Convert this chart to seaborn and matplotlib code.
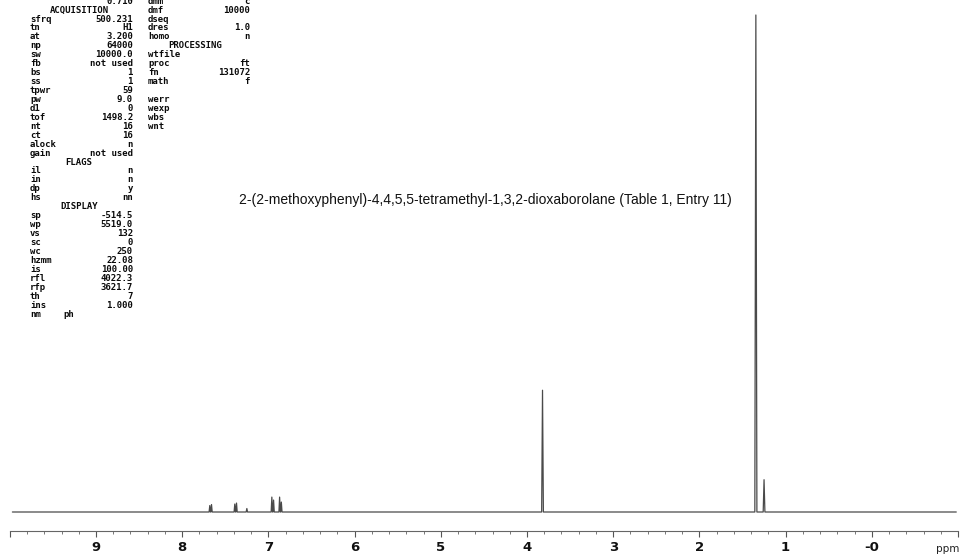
import pandas as pd
import seaborn as sns
import matplotlib.pyplot as plt
import numpy as np

# ==========================================
# DATA
# ==========================================
TITLE = "2-(2-methoxyphenyl)-4,4,5,5-tetramethyl-1,3,2-dioxaborolane (Table 1, Entry 11)"

# peak list: position (ppm), height (% of tallest line), half width at base (ppm)
PEAK_PPM = [7.68, 7.66, 7.39, 7.37, 7.25, 6.96, 6.94, 6.87, 6.85, 3.82, 1.345, 1.25]
PEAK_HEIGHT = [1.3, 1.5, 1.6, 1.8, 0.7, 3.0, 2.4, 3.0, 2.0, 24.5, 100.0, 6.5]
PEAK_HALFWIDTH = [0.008, 0.008, 0.008, 0.008, 0.008, 0.008, 0.008, 0.008, 0.008, 0.01, 0.012, 0.01]

# baseline start / end (ppm)
BASELINE_START = 9.97
BASELINE_END = -0.98

# scale labels
MAJOR_TICKS = [10, 9, 8, 7, 6, 5, 4, 3, 2, 1, 0, -1]
MAJOR_LABELS = ["", "9", "8", "7", "6", "5", "4", "3", "2", "1", "-0", ""]
MINOR_TICKS = [round(10 - 0.2 * i, 1) for i in range(56)]

# parameter listing, column 1: (row, label, value)
PARAMS_COL1 = [
    (-2, "", "0.710"),
    (0, "sfrq", "500.231"), (1, "tn", "H1"), (2, "at", "3.200"),
    (3, "np", "64000"), (4, "sw", "10000.0"), (5, "fb", "not used"),
    (6, "bs", "1"), (7, "ss", "1"), (8, "tpwr", "59"), (9, "pw", "9.0"),
    (10, "d1", "0"), (11, "tof", "1498.2"), (12, "nt", "16"),
    (13, "ct", "16"), (14, "alock", "n"), (15, "gain", "not used"),
    (17, "il", "n"), (18, "in", "n"), (19, "dp", "y"), (20, "hs", "nn"),
    (22, "sp", "-514.5"), (23, "wp", "5519.0"), (24, "vs", "132"),
    (25, "sc", "0"), (26, "wc", "250"), (27, "hzmm", "22.08"),
    (28, "is", "100.00"), (29, "rfl", "4022.3"), (30, "rfp", "3621.7"),
    (31, "th", "7"), (32, "ins", "1.000"),
]
HEADERS_COL1 = [(-1, "ACQUISITION"), (16, "FLAGS"), (21, "DISPLAY")]

PARAMS_COL2 = [
    (-2, "dmm", "c"), (-1, "dmf", "10000"), (0, "dseq", ""),
    (1, "dres", "1.0"), (2, "homo", "n"), (4, "wtfile", ""),
    (5, "proc", "ft"), (6, "fn", "131072"), (7, "math", "f"),
    (9, "werr", ""), (10, "wexp", ""), (11, "wbs", ""), (12, "wnt", ""),
]
HEADERS_COL2 = [(3, "PROCESSING")]

# ==========================================
# LAYOUT (pixels of a 960x558 page)
# ==========================================
W, H = 960, 558
RULER_Y = 531
BASE_Y = 512
TOP_PEAK_Y = 15
X_LEFT, X_RIGHT = 9.8, 958

ROW0_Y = 19
ROW_STEP = 8.94
COL1_LABEL_X, COL1_VALUE_X, COL1_HEAD_X = 30, 133, 79
COL2_LABEL_X, COL2_VALUE_X, COL2_HEAD_X = 148, 250, 195


def build_spectrum():
    """Polyline vertices: baseline with a triangle for every line."""
    order = np.argsort(PEAK_PPM)[::-1]
    ppm = [BASELINE_START]
    inten = [0.0]
    for i in order:
        c, h, w = PEAK_PPM[i], PEAK_HEIGHT[i], PEAK_HALFWIDTH[i]
        ppm += [c + w, c, c - w]
        inten += [0.0, h, 0.0]
    ppm.append(BASELINE_END)
    inten.append(0.0)
    return pd.DataFrame({"ppm": ppm, "intensity": inten})


def fy(py):
    return 1 - py / H


def draw_params(fig):
    mono = dict(family="DejaVu Sans Mono", fontsize=6.5, fontweight="bold",
                color="#0a0a0a", va="center")
    for row, lab, val in PARAMS_COL1:
        y = fy(ROW0_Y + row * ROW_STEP)
        if lab:
            fig.text(COL1_LABEL_X / W, y, lab, ha="left", **mono)
        if val:
            fig.text(COL1_VALUE_X / W, y, val, ha="right", **mono)
    for row, lab in HEADERS_COL1:
        fig.text(COL1_HEAD_X / W, fy(ROW0_Y + row * ROW_STEP), lab, ha="center", **mono)
    # last line of column 1
    fig.text(COL1_LABEL_X / W, fy(ROW0_Y + 33 * ROW_STEP), "nm", ha="left", **mono)
    fig.text(63 / W, fy(ROW0_Y + 33 * ROW_STEP), "ph", ha="left", **mono)

    for row, lab, val in PARAMS_COL2:
        y = fy(ROW0_Y + row * ROW_STEP)
        fig.text(COL2_LABEL_X / W, y, lab, ha="left", **mono)
        if val:
            fig.text(COL2_VALUE_X / W, y, val, ha="right", **mono)
    for row, lab in HEADERS_COL2:
        fig.text(COL2_HEAD_X / W, fy(ROW0_Y + row * ROW_STEP), lab, ha="center", **mono)


def generate_plot():
    sns.set_theme(style="white")
    plt.rcParams["font.family"] = ["DejaVu Sans"]

    df = build_spectrum()

    fig = plt.figure(figsize=(W / 100, H / 100), dpi=100)
    ax = fig.add_axes([X_LEFT / W, (H - RULER_Y) / H, (X_RIGHT - X_LEFT) / W, RULER_Y / H])

    sns.lineplot(data=df, x="ppm", y="intensity", sort=False, estimator=None,
                 color="#4a4a4a", linewidth=0.9, ax=ax)

    # baseline sits 19 px above the ruler, tallest line tops out at y=15 px
    span = BASE_Y - TOP_PEAK_Y
    ax.set_ylim(-(RULER_Y - BASE_Y) / span * 100, BASE_Y / span * 100)
    ax.set_xlim(10, -1)

    for s in ["top", "left", "right"]:
        ax.spines[s].set_visible(False)
    ax.spines["bottom"].set_color("#666666")
    ax.spines["bottom"].set_linewidth(0.8)

    ax.set_xticks(MAJOR_TICKS)
    ax.set_xticklabels(MAJOR_LABELS, fontsize=9.5, fontweight="bold", color="#111111")
    ax.set_xticks(MINOR_TICKS, minor=True)
    ax.tick_params(axis="x", which="major", direction="out", length=4.5, width=0.8,
                   color="#555555", pad=3, bottom=True)
    ax.tick_params(axis="x", which="minor", direction="out", length=2.5, width=0.7,
                   color="#777777", bottom=True)
    ax.set_yticks([])
    ax.set_xlabel("")
    ax.set_ylabel("")
    ax.patch.set_alpha(0)

    fig.text(948 / W, fy(549), "ppm", ha="center", va="center", fontsize=7.5,
             color="#222222")
    fig.text(485.5 / W, fy(200), TITLE, ha="center", va="center",
             family="Liberation Sans", fontsize=10, color="#111111")

    draw_params(fig)

    fig.savefig("out.png", dpi=100)


if __name__ == "__main__":
    generate_plot()
